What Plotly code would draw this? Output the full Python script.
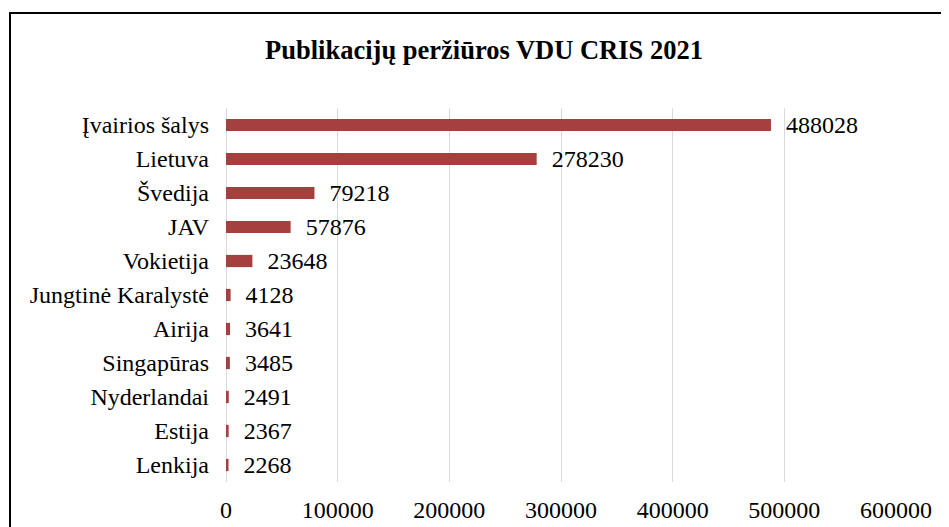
import plotly.graph_objects as go

categories = ["Įvairios šalys", "Lietuva", "Švedija", "JAV", "Vokietija",
              "Jungtinė Karalystė", "Airija", "Singapūras", "Nyderlandai",
              "Estija", "Lenkija"]
values = [488028, 278230, 79218, 57876, 23648, 4128, 3641, 3485, 2491, 2367, 2268]
tick_vals = [0, 100000, 200000, 300000, 400000, 500000, 600000]
tick_text = ["0", "100000", "200000", "300000", "400000", "500000", "600000"]

FONT = "Liberation Serif, Times New Roman, serif"
FS = 24
OFF = 8  # default page body margin
W, H = 949 - OFF, 527 - OFF
L, T = 226 - OFF, 108 - OFF
R = W - (896 - OFF)
B = H - (482 - OFF)
pw, ph = W - L - R, H - T - B

fig = go.Figure(go.Bar(
    x=values, y=categories, orientation="h",
    marker=dict(color="#A5403E", line=dict(width=0)),
    text=["\u00a0\u00a0" + str(v) for v in values],
    textposition="outside",
    constraintext="none",
    textfont=dict(family=FONT, size=FS, color="black"),
    cliponaxis=False,
))

fig.update_layout(
    width=W, height=H,
    margin=dict(l=L, r=R, t=T, b=B, autoexpand=False),
    paper_bgcolor="white", plot_bgcolor="white",
    bargap=0.64,
    showlegend=False,
    font=dict(family=FONT, size=FS, color="black"),
    title=dict(text="<b>Publikacijų peržiūros VDU CRIS 2021</b>",
               x=(484 - OFF) / W, xref="container", xanchor="center",
               y=1 - (50 - OFF) / H, yref="container", yanchor="middle",
               font=dict(family=FONT, size=26.5, color="black")),
    xaxis=dict(range=[0, 600000], tickvals=tick_vals, ticktext=tick_text,
               automargin=False,
               showgrid=True, gridcolor="#D9D9D9", gridwidth=1,
               zeroline=True, zerolinecolor="#D9D9D9", zerolinewidth=1,
               showline=False, ticks="", ticklabelstandoff=11,
               tickfont=dict(family=FONT, size=FS, color="black")),
    yaxis=dict(autorange="reversed", showgrid=False, showline=False,
               automargin=False,
               ticks="", ticklabelstandoff=16,
               tickfont=dict(family=FONT, size=FS, color="black")),
    shapes=[dict(type="rect", xref="paper", yref="paper",
                 x0=(10 - 226) / pw, x1=2.0,
                 y0=-1.0, y1=(482 - 13) / ph,
                 line=dict(color="black", width=2), fillcolor="rgba(0,0,0,0)",
                 layer="above")],
)

fig.write_html("out.html")
